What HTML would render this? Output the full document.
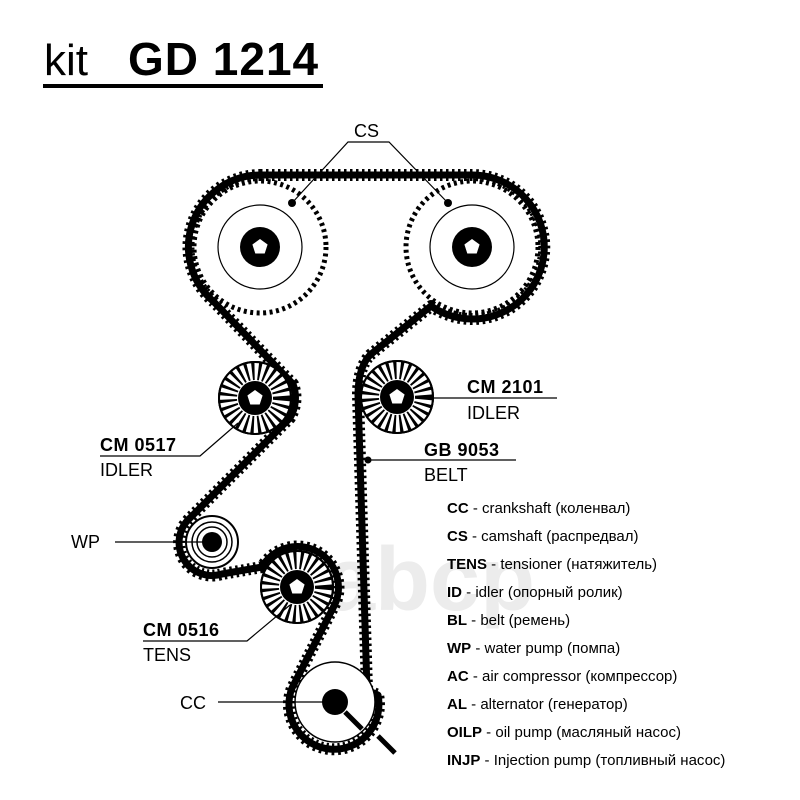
<!DOCTYPE html>
<html><head><meta charset="utf-8"><style>
html,body{margin:0;padding:0;background:#fff}
svg{display:block}
text{font-family:"Liberation Sans","DejaVu Sans",sans-serif;fill:#000}
</style></head><body>
<svg width="800" height="800" viewBox="0 0 800 800" xmlns="http://www.w3.org/2000/svg">
<defs>
<g id="pent"><polygon points="0,-8 7.6,-2.5 4.7,6.5 -4.7,6.5 -7.6,-2.5" fill="#fff"/></g>
<g id="idler">
 <circle r="36" fill="#fff" stroke="#000" stroke-width="2"/>
 <circle r="27" fill="none" stroke="#000" stroke-width="18" stroke-dasharray="2.6 3.6"/>
 <circle r="36" fill="none" stroke="#000" stroke-width="2"/>
 <circle r="17" fill="#000"/>
 <use href="#pent"/>
</g>
</defs>
<text x="44" y="75" font-size="44">kit</text>
<text x="128" y="75" font-size="46" font-weight="bold" letter-spacing="1">GD 1214</text>
<rect x="43" y="84" width="280" height="4" fill="#000"/>

<text x="325" y="610" font-size="90" font-weight="bold" style="fill:#ececec">abcp</text>

<!-- cam pulleys -->
<g>
<circle cx="260" cy="247" r="64" fill="#fff"/>
<circle cx="260" cy="247" r="66" fill="none" stroke="#000" stroke-width="5" stroke-dasharray="3 3.5"/>
<circle cx="260" cy="247" r="42" fill="none" stroke="#000" stroke-width="1.2"/>
<circle cx="260" cy="247" r="20" fill="#000"/>
<use href="#pent" x="260" y="247"/>
<circle cx="472" cy="247" r="64" fill="#fff"/>
<circle cx="472" cy="247" r="66" fill="none" stroke="#000" stroke-width="5" stroke-dasharray="3 3.5"/>
<circle cx="472" cy="247" r="42" fill="none" stroke="#000" stroke-width="1.2"/>
<circle cx="472" cy="247" r="20" fill="#000"/>
<use href="#pent" x="472" y="247"/>
</g>

<!-- belt -->
<path d="M260,175 L472,175 A72,72 0 1 1 431,306 L370,355 Q358,368 358,395 L367,690 L378,695 A45,45 0 1 1 292,688 L333,608 A40,40 0 0 0 262,567 L222,574 A33,33 0 0 1 190,518 L290,418 A40,40 0 0 0 293,384 L214,302 A72,72 0 0 1 260,175 Z" fill="none" stroke="#000" stroke-width="12" stroke-dasharray="2.5 3.5" stroke-linejoin="round"/>
<path d="M260,175 L472,175 A72,72 0 1 1 431,306 L370,355 Q358,368 358,395 L367,690 L378,695 A45,45 0 1 1 292,688 L333,608 A40,40 0 0 0 262,567 L222,574 A33,33 0 0 1 190,518 L290,418 A40,40 0 0 0 293,384 L214,302 A72,72 0 0 1 260,175 Z" fill="none" stroke="#000" stroke-width="7" stroke-linejoin="round"/>

<!-- idlers -->
<use href="#idler" x="255" y="398"/>
<use href="#idler" x="397" y="397"/>
<use href="#idler" x="297" y="587"/>

<!-- WP -->
<circle cx="212" cy="542" r="26" fill="#fff" stroke="#000" stroke-width="2"/>
<circle cx="212" cy="542" r="20" fill="none" stroke="#000" stroke-width="1.5"/>
<circle cx="212" cy="542" r="15" fill="none" stroke="#000" stroke-width="1.5"/>
<circle cx="212" cy="542" r="10" fill="#000"/>

<!-- CC -->
<circle cx="335" cy="702" r="40" fill="#fff" stroke="#000" stroke-width="1.5"/>
<circle cx="335" cy="702" r="13" fill="#000"/>
<line x1="345" y1="712" x2="362" y2="729" stroke="#000" stroke-width="5"/>
<line x1="378" y1="736" x2="395" y2="753" stroke="#000" stroke-width="5"/>

<!-- leaders -->
<g stroke="#000" stroke-width="1.2" fill="none">
<polyline points="292,203 348,142 389,142 448,203"/>
<polyline points="100,456 200,456 238,423"/>
<line x1="420" y1="398" x2="557" y2="398"/>
<line x1="368" y1="460" x2="516" y2="460"/>
<line x1="115" y1="542" x2="205" y2="542"/>
<polyline points="143,641 247,641 290,605"/>
<line x1="218" y1="702" x2="333" y2="702"/>
</g>
<circle cx="292" cy="203" r="4" fill="#000"/>
<circle cx="448" cy="203" r="4" fill="#000"/>
<circle cx="368" cy="460" r="3.5" fill="#000"/>

<g font-size="18">
<text x="354" y="137">CS</text>
<text x="100" y="451" font-weight="bold" letter-spacing="0.5">CM  0517</text>
<text x="100" y="476">IDLER</text>
<text x="467" y="393" font-weight="bold" letter-spacing="0.5">CM  2101</text>
<text x="467" y="419">IDLER</text>
<text x="424" y="456" font-weight="bold" letter-spacing="0.5">GB  9053</text>
<text x="424" y="481">BELT</text>
<text x="71" y="548">WP</text>
<text x="143" y="636" font-weight="bold" letter-spacing="0.5">CM  0516</text>
<text x="143" y="661">TENS</text>
<text x="180" y="709">CC</text>
</g>
<g font-size="15">
<text x="447" y="513"><tspan font-weight="bold">CC</tspan> - crankshaft (коленвал)</text>
<text x="447" y="541"><tspan font-weight="bold">CS</tspan> - camshaft (распредвал)</text>
<text x="447" y="569"><tspan font-weight="bold">TENS</tspan> - tensioner (натяжитель)</text>
<text x="447" y="597"><tspan font-weight="bold">ID</tspan> - idler (опорный ролик)</text>
<text x="447" y="625"><tspan font-weight="bold">BL</tspan> - belt (ремень)</text>
<text x="447" y="653"><tspan font-weight="bold">WP</tspan> - water pump (помпа)</text>
<text x="447" y="681"><tspan font-weight="bold">AC</tspan> - air compressor (компрессор)</text>
<text x="447" y="709"><tspan font-weight="bold">AL</tspan> - alternator (генератор)</text>
<text x="447" y="737"><tspan font-weight="bold">OILP</tspan> - oil pump (масляный насос)</text>
<text x="447" y="765"><tspan font-weight="bold">INJP</tspan> - Injection pump (топливный насос)</text>
</g>
</svg>
</body></html>
